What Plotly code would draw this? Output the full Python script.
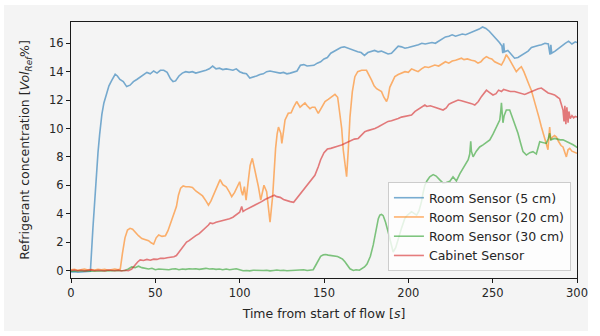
import plotly.graph_objects as go

# Time stamps (s) and concentrations (Vol_Ref %) for each sensor
t_room5 = [0, 2, 4, 6, 8, 10, 11.5, 13, 14.5, 16, 17, 18.3, 19.5, 21, 22.5, 24, 25, 26.2, 27.5, 29, 31, 33, 35, 37, 39, 41, 43, 45, 47, 49, 51, 53, 55, 57, 59, 60.5, 62, 64, 66, 68, 70, 72, 74, 76, 78, 80, 82, 84, 86, 88, 90, 92, 94, 96, 98, 100, 102, 104, 106, 108, 110, 112, 114, 116, 118, 120, 122, 124, 126, 128, 130, 132, 134, 136, 138, 140, 142, 144, 146, 148, 150, 152, 154, 156, 158, 160, 162, 164, 166, 168, 170, 172, 174, 176, 178, 180, 182, 184, 186, 188, 190, 192, 194, 196, 198, 200, 202, 204, 206, 208, 210, 212, 214, 216, 218, 220, 222, 224, 226, 228, 230, 232, 234, 236, 238, 240, 242, 244, 246, 248, 250, 252, 254, 255.5, 256, 256.5, 257, 259, 261, 263, 265, 267, 269, 271, 273, 275, 277, 279, 281, 283, 284, 284.5, 285, 287, 289, 291, 293, 295, 297, 299, 300]
v_room5 = [-0.1, -0.08, -0.12, -0.1, -0.1, -0.1, -0.05, 3.0, 5.8, 8.3, 9.6, 11.0, 11.8, 12.5, 13.0, 13.35, 13.6, 13.82, 13.7, 13.45, 13.3, 12.95, 13.05, 13.3, 13.45, 13.6, 13.75, 13.95, 13.85, 14.05, 13.9, 14.1, 14.1, 13.95, 13.5, 13.3, 13.35, 13.7, 13.9, 14.0, 13.95, 14.0, 13.9, 13.95, 14.05, 14.1, 14.2, 14.4, 14.2, 14.25, 14.15, 14.2, 14.15, 14.1, 14.2, 14.0, 13.9, 13.85, 13.55, 13.6, 13.7, 13.8, 13.85, 14.0, 14.05, 14.0, 13.95, 13.9, 13.95, 13.85, 13.9, 13.95, 14.05, 14.45, 14.5, 14.4, 14.45, 14.45, 14.6, 14.7, 14.9, 15.0, 15.3, 15.45, 15.6, 15.7, 15.75, 15.65, 15.55, 15.5, 15.4, 15.35, 15.15, 15.35, 15.45, 15.5, 15.4, 15.45, 15.35, 15.25, 15.3, 15.55, 15.8, 15.75, 15.65, 15.7, 15.75, 15.8, 15.9, 16.0, 15.95, 16.0, 16.05, 16.0, 16.15, 16.3, 16.45, 16.5, 16.6, 16.5, 16.6, 16.65, 16.6, 16.7, 16.75, 16.85, 17.0, 17.15, 17.05, 16.85, 16.6, 16.3, 16.05, 15.8, 15.3, 16.0, 15.4, 15.5, 15.2, 14.95, 15.0, 15.15, 15.3, 15.45, 15.7, 15.8, 15.85, 15.9, 16.0, 15.95, 15.2, 15.9, 15.3, 15.45, 15.65, 15.85, 16.0, 16.15, 15.95, 16.1, 16.05]

t_room20 = [0, 2, 4, 6, 8, 10, 12, 14, 16, 18, 20, 22, 24, 26, 28, 29.2, 30.5, 32, 33.5, 35, 36.5, 38, 40, 42, 44, 46, 47.5, 49, 50.5, 52, 54, 56, 57.5, 59, 61, 62.5, 63.7, 65, 66.5, 68, 70, 72, 74, 76, 78, 80, 81.5, 83, 85.4, 87, 88.4, 90, 92, 94, 95.3, 97, 98.3, 100, 101, 101.8, 102.8, 103.8, 105, 106.2, 107.5, 109, 110, 111.1, 112.5, 114.4, 116, 117, 118, 119.6, 120.5, 121.3, 122.2, 123, 124.4, 125, 126, 126.9, 128.8, 130.5, 132, 133.8, 135.8, 137, 138.7, 140, 141.7, 143, 144.6, 146.6, 148.5, 150.6, 152.5, 154.5, 156.5, 158.1, 159.5, 160.5, 161.4, 162.4, 163.4, 164.4, 165.4, 166.8, 168.3, 170, 172.3, 175.2, 176.7, 178.2, 179.7, 181.2, 184.1, 185.5, 187.1, 188, 189, 190.5, 192, 194, 195.9, 198, 200, 201.9, 203.8, 205.8, 207.8, 209.8, 212, 213.7, 215.7, 218, 220.6, 222, 224, 226, 228, 230, 231.5, 233, 235, 237.4, 239.5, 241.3, 243, 244.5, 246.3, 248, 249.5, 251.2, 253, 255.2, 256.7, 258.1, 259.5, 261.1, 262.5, 264, 265.5, 267, 268.5, 270, 271.5, 272.9, 274.4, 275.9, 277.4, 278.9, 280.3, 281.8, 282.8, 283.3, 283.8, 284.4, 285.5, 286.7, 287.8, 289, 290.5, 291.7, 293, 293.7, 294.7, 295.7, 297, 298.5, 300]
v_room20 = [0.05, 0.08, 0.02, 0.06, 0.1, 0.04, 0.07, 0.03, 0.09, 0.05, 0.08, 0.02, 0.06, 0.1, 0.05, 0.1, 1.2, 2.3, 2.85, 2.97, 2.9, 2.7, 2.45, 2.25, 2.15, 2.1, 1.95, 1.85, 2.3, 2.5, 2.4, 2.45, 2.8, 3.3, 3.9, 4.5, 5.3, 5.8, 5.95, 5.9, 5.9, 5.85, 5.6, 5.45, 5.25, 4.9, 4.6, 4.9, 5.55, 6.1, 6.4, 6.05, 5.9, 5.5, 5.2, 5.5, 5.8, 6.25, 5.6, 5.3, 5.9, 4.96, 6.2, 7.4, 7.9, 7.1, 6.4, 5.9, 4.96, 6.0, 5.55, 4.5, 3.4, 5.3, 7.5, 8.6, 9.6, 10.1, 9.66, 8.95, 9.8, 10.6, 11.07, 11.1, 11.5, 11.9, 11.5, 11.6, 11.8, 11.6, 11.4, 11.5, 11.5, 11.07, 11.5, 11.9, 12.05, 12.2, 12.4, 12.2, 11.07, 10.0, 8.5, 7.3, 6.6, 8.5, 10.8, 12.6, 13.65, 14.0, 14.1, 14.1, 13.8, 13.4, 13.0, 12.8, 12.6, 12.2, 11.9, 12.2, 12.9, 13.3, 13.65, 13.8, 13.9, 14.0, 13.95, 14.2, 14.1, 14.0, 14.2, 14.35, 14.3, 14.4, 14.47, 14.4, 14.6, 14.7, 14.6, 14.75, 14.8, 14.9, 14.95, 14.85, 14.9, 14.8, 14.75, 14.6, 14.7, 14.9, 15.06, 14.95, 14.9, 14.7, 14.6, 14.47, 14.8, 15.2, 14.95, 14.6, 14.3, 14.0, 14.2, 14.35, 14.0, 13.5, 13.1, 12.7, 12.1, 11.5, 10.8, 10.1, 9.5, 9.0, 8.5, 9.4, 10.1, 9.2, 9.4, 9.5, 9.4, 9.1, 8.8, 8.7, 8.2, 8.0, 8.5, 8.6, 8.4, 8.3, 8.25]

t_room30 = [0, 3, 6, 9, 12, 15, 18, 21, 24, 27, 30, 32, 34, 36, 38, 40, 42, 44, 46, 48, 50, 52, 54, 56, 58, 60, 62, 64, 66, 68, 70, 72, 74, 76, 78, 80, 82, 84, 86, 88, 90, 92, 94, 96, 98, 100, 102, 104, 106, 108, 110, 112, 114, 116, 118, 120, 122, 124, 126, 128, 130, 132, 134, 136, 138, 140, 142, 143.6, 145, 146.6, 148, 149.6, 151, 152.5, 154.5, 156.5, 158, 159.5, 161, 162.4, 164, 165.4, 167.4, 169, 171, 172.3, 174, 175.5, 176.2, 177.5, 179.2, 180.2, 181.2, 182.2, 183.1, 184.1, 185.1, 186.5, 188, 189.5, 191, 192.5, 194, 196, 197.9, 199.5, 201.9, 203.4, 204.9, 206.3, 207.8, 208.8, 209.8, 211, 212.7, 214.7, 216.5, 218.5, 220.6, 222.5, 224.6, 226.5, 228.5, 230.5, 232.4, 234, 235.5, 236.4, 237, 237.4, 238.4, 240.3, 242.3, 244.3, 246.3, 248.3, 250.2, 252.2, 253.5, 254.2, 254.8, 255.2, 255.7, 256.1, 256.8, 258.1, 260.1, 261, 262, 263.5, 265, 266.5, 268, 270, 272, 273.9, 275.9, 277.9, 279.8, 281.8, 283, 283.8, 284.5, 286.7, 288.5, 290, 291.7, 293.7, 295.7, 297.7, 299.6, 300]
v_room30 = [-0.05, -0.03, -0.06, -0.02, -0.05, -0.04, -0.06, -0.03, -0.05, -0.02, -0.04, 0.0, 0.1, 0.25, 0.2, 0.3, 0.2, 0.15, 0.1, 0.15, 0.05, 0.1, 0.08, 0.1, 0.05, 0.1, 0.12, 0.05, 0.1, 0.08, 0.12, 0.1, 0.12, 0.08, 0.1, 0.15, 0.1, 0.12, 0.08, 0.1, 0.05, 0.1, 0.05, 0.08, 0.12, 0.05, -0.02, 0.0, -0.03, 0.02, 0.0, -0.02, 0.0, 0.02, -0.03, 0.0, 0.03, 0.0, 0.02, -0.02, 0.0, 0.03, 0.0, 0.02, 0.05, 0.0, 0.02, 0.05, 0.35, 0.74, 1.0, 1.1, 1.12, 1.08, 1.05, 1.05, 0.98, 0.9, 0.8, 0.62, 0.35, 0.12, 0.0, 0.05, 0.02, 0.1, 0.25, 0.45, 0.62, 1.0, 1.8, 2.5, 3.2, 3.65, 3.9, 3.95, 3.86, 3.4, 2.73, 2.0, 1.3, 1.6, 2.27, 3.0, 3.67, 3.9, 4.14, 4.0, 3.9, 4.2, 4.85, 5.5, 6.0, 6.3, 6.6, 6.75, 6.65, 6.4, 6.15, 6.2, 6.28, 6.6, 6.3, 6.8, 7.2, 7.5, 7.8, 8.2, 9.1, 8.4, 8.0, 8.4, 8.7, 8.85, 9.0, 9.2, 9.6, 10.1, 10.4, 10.6, 11.2, 11.8, 11.0, 10.4, 10.9, 11.3, 11.3, 11.0, 10.7, 10.2, 9.66, 9.0, 8.37, 8.13, 8.3, 8.37, 8.2, 9.07, 9.0, 8.95, 9.3, 9.66, 9.2, 9.3, 9.25, 9.2, 9.2, 9.1, 8.96, 8.85, 8.7, 8.65]

t_cabinet = [0, 2, 4, 6, 8, 10, 12, 14, 16, 18, 20, 22, 24, 26, 28, 30, 32, 34, 36, 37, 38, 39.5, 41, 43, 45, 47, 49, 51, 53, 55, 57, 59, 61, 62.5, 64, 65.5, 67, 68.5, 70, 72, 74, 76, 78, 80, 81.5, 82.5, 84, 86, 88, 90, 92, 94, 96, 98, 100, 101.2, 102, 103.2, 105, 107, 109, 111, 113, 115, 117, 119, 120.5, 122, 124, 126, 128, 130, 132, 134, 136, 138, 140, 142, 144.6, 146.6, 148, 150, 152, 154, 156, 158, 160.4, 162.5, 164.4, 166, 168, 170.3, 172, 174.2, 176, 178, 180.2, 182, 184, 186, 188, 190, 192, 194, 195.9, 198, 200, 201.9, 204, 206, 208, 209.8, 211, 213, 215.7, 218, 220.6, 222.5, 224, 225.5, 227.5, 229.5, 231.5, 233.4, 235.5, 237.5, 239.4, 241.5, 243.3, 245, 246.3, 248, 250.2, 252, 253.5, 255.2, 256.5, 258.1, 260.5, 263, 265, 267, 269, 271, 272.9, 275, 277, 278.9, 280.5, 282.9, 284.5, 286.7, 288.5, 289.7, 290.7, 291.7, 292.3, 292.8, 293.4, 294, 294.7, 295.2, 296, 297, 298, 299, 300]
v_cabinet = [0.0, 0.03, -0.02, 0.02, -0.03, 0.01, 0.04, -0.02, 0.02, 0.0, -0.03, 0.03, 0.0, -0.02, 0.02, -0.04, 0.01, -0.02, 0.1, 0.25, 0.4, 0.6, 0.74, 0.7, 0.78, 0.72, 0.8, 0.78, 0.86, 0.85, 0.9, 0.92, 0.97, 1.05, 1.3, 1.55, 1.8, 2.0, 2.1, 2.3, 2.45, 2.6, 2.8, 3.0, 3.2, 3.35, 3.3, 3.4, 3.45, 3.5, 3.55, 3.65, 3.75, 3.9, 4.1, 4.5, 4.15, 4.25, 4.35, 4.5, 4.6, 4.7, 4.85, 5.0, 5.1, 5.25, 5.3, 5.2, 5.15, 5.0, 4.9, 4.85, 4.8, 5.1, 5.45, 5.75, 6.0, 6.3, 6.7, 7.3, 7.8, 8.3, 8.55, 8.6, 8.7, 8.75, 8.84, 8.95, 9.07, 9.1, 9.25, 9.3, 9.5, 9.77, 9.85, 9.9, 10.0, 10.1, 10.25, 10.4, 10.5, 10.55, 10.6, 10.7, 10.8, 10.85, 10.9, 10.95, 11.2, 11.35, 11.5, 11.65, 11.55, 11.6, 11.5, 11.4, 11.3, 11.45, 11.7, 11.8, 11.9, 12.0, 11.95, 11.9, 11.8, 11.75, 11.65, 11.9, 12.24, 12.5, 12.7, 12.55, 12.36, 12.45, 12.7, 12.6, 12.75, 12.7, 12.6, 12.6, 12.55, 12.45, 12.4, 12.5, 12.6, 12.7, 12.8, 12.85, 12.7, 12.5, 12.45, 12.36, 12.2, 12.1, 11.7, 11.3, 10.5, 11.6, 10.3, 11.5, 10.4, 11.2, 10.7, 10.9, 10.75, 10.85, 10.8]

series = [
    ("Room Sensor (5 cm)", t_room5, v_room5, "rgba(31,119,180,0.6)"),
    ("Room Sensor (20 cm)", t_room20, v_room20, "rgba(255,127,14,0.6)"),
    ("Room Sensor (30 cm)", t_room30, v_room30, "rgba(44,160,44,0.6)"),
    ("Cabinet Sensor", t_cabinet, v_cabinet, "rgba(214,39,40,0.6)"),
]

x_ticks = [0, 50, 100, 150, 200, 250, 300]
y_ticks = [0, 2, 4, 6, 8, 10, 12, 14, 16]

fig = go.Figure()
for name, t, v, color in series:
    fig.add_trace(go.Scatter(x=t, y=v, mode="lines", name=name,
                             line=dict(color=color, width=1.6)))

font_family = "DejaVu Sans"
text_color = "#262626"
axis_common = dict(
    showline=True, linecolor="#1a1a1a", linewidth=1, mirror=True,
    ticks="outside", ticklen=4, tickwidth=1, tickcolor="#1a1a1a",
    showgrid=False, zeroline=False,
    tickfont=dict(family=font_family, size=11.5, color=text_color),
)

fig.update_layout(
    width=600, height=336,
    margin=dict(l=71, r=23, t=22, b=58),
    paper_bgcolor="#ffffff", plot_bgcolor="#f4f4f4",
    font=dict(family=font_family, size=12, color=text_color),
    xaxis=dict(range=[0, 300], tickvals=x_ticks,
               title=dict(text="Time from start of flow [<i>s</i>]",
                          font=dict(size=12.5), standoff=10),
               **axis_common),
    yaxis=dict(range=[-0.53, 17.5], tickvals=y_ticks,
               title=dict(text="Refrigerant concentration [<i>Vol</i><sub><i>Ref</i></sub>%]",
                          font=dict(size=12.5), standoff=16),
               **axis_common),
    legend=dict(x=0.988, y=0.027, xanchor="right", yanchor="bottom",
                bgcolor="rgba(255,255,255,0.8)", bordercolor="#cccccc",
                borderwidth=1, font=dict(family=font_family, size=12.5, color=text_color)),
    # light grey figure panel inside a thin white border
    shapes=[dict(type="rect", xref="paper", yref="paper",
                 x0=-0.1324, x1=1.0217, y0=-0.207, y1=1.0664,
                 fillcolor="#f4f4f4", line=dict(width=0), layer="below")],
)

fig.write_html("out.html")
